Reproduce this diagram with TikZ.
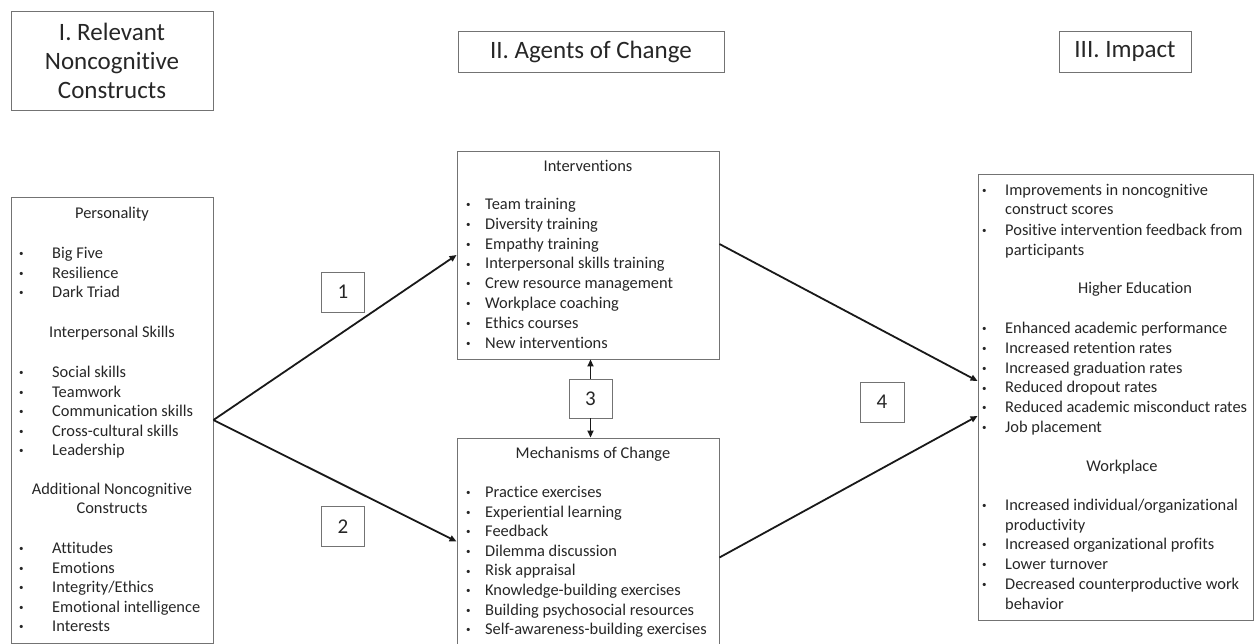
\documentclass[tikz,border=0pt]{standalone}
\usepackage{fontspec}
\setmainfont{Carlito}[Ligatures=NoCommon]
\usetikzlibrary{arrows.meta}

\newcommand\headfont{\fontsize{25}{29}\selectfont}
\newcommand\numfont{\fontsize{21}{25}\selectfont}
\newcommand\itemfont{\fontsize{16.4}{19.6}\selectfont}
\newcommand\dotmark{\raisebox{1.8pt}{\fontsize{9}{9}\selectfont\textbullet}}

\begin{document}
\begin{tikzpicture}[x=1pt,y=-1pt,
  box/.style={draw=black!55, line width=0.9pt, inner sep=0pt, text=black!85},
  numbox/.style={box, minimum width=43pt, minimum height=40pt, font=\numfont},
  txt/.style={inner sep=0pt, font=\itemfont, text=black!85},
  item/.style={txt, anchor=base west, execute at begin node={\llap{\dotmark\hspace{#1}}}},
  item/.default=14.5pt,
  cont/.style={txt, anchor=base west},
  topic/.style={txt, anchor=base},
  link/.style={-{Triangle[length=7pt,width=6pt]}, line width=1.8pt, black!90}]

  \useasboundingbox (0,0) rectangle (1255,644);

  %% column headers
  \node[box, minimum width=202pt, minimum height=99pt, align=center, font=\headfont]
    (hdrI) at (112,60.5) {I. Relevant\\Noncognitive\\Constructs};
  \node[box, minimum width=266pt, minimum height=41pt, font=\headfont]
    (hdrII) at (591,51.5) {II. Agents of Change};
  \node[box, minimum width=132pt, minimum height=41pt, font=\headfont]
    (hdrIII) at (1125,51.5) {III. Impact};

  %% I. constructs
  \node[box, minimum width=202pt, minimum height=446pt] (constructs) at (112,420) {};
  \node[topic] (personality) at (112,218.5) {Personality};
  \foreach \t [count=\k from 0] in {Big Five,Resilience,Dark Triad}
    \node[item=28.5pt] (pers-\k) at (52,258.5+19.6*\k) {\t};
  \node[topic] (interpersonal) at (112,337.5) {Interpersonal Skills};
  \foreach \t [count=\k from 0] in {Social skills,Teamwork,Communication skills,
      Cross-cultural skills,Leadership}
    \node[item=28.5pt] (inter-\k) at (52,377.5+19.5*\k) {\t};
  \node[topic] (additional) at (112,494.5) {Additional Noncognitive};
  \node[topic] (additional-b) at (112,513.5) {Constructs};
  \foreach \t [count=\k from 0] in {Attitudes,Emotions,Integrity/Ethics,
      Emotional intelligence,Interests}
    \node[item=28.5pt] (add-\k) at (52,553.5+19.5*\k) {\t};

  %% II. agents of change
  \node[box, minimum width=262pt, minimum height=208pt] (interventions) at (588,255) {};
  \node[topic] (interventions-t) at (588,171.5) {Interventions};
  \foreach \t [count=\k from 0] in {Team training,Diversity training,Empathy training,
      Interpersonal skills training,Crew resource management,Workplace coaching,
      Ethics courses,New interventions}
    \node[item] (iv-\k) at (485,209.5+19.8*\k) {\t};

  \node[box, minimum width=262pt, minimum height=207pt] (mechanisms) at (588,541.5) {};
  \node[topic] (mechanisms-t) at (593,458.5) {Mechanisms of Change};
  \foreach \t [count=\k from 0] in {Practice exercises,Experiential learning,Feedback,
      Dilemma discussion,Risk appraisal,Knowledge-building exercises,
      Building psychosocial resources,Self-awareness-building exercises}
    \node[item] (mc-\k) at (485,497.5+19.6*\k) {\t};

  %% III. impact
  \node[box, minimum width=275pt, minimum height=446pt] (impact) at (1115.5,397) {};
  \node[item=18.5pt] (imp-0) at (1005,195.5) {Improvements in noncognitive};
  \node[cont] (imp-0b) at (1005,214.5) {construct scores};
  \node[item=18.5pt] (imp-1) at (1005,235.5) {Positive intervention feedback from};
  \node[cont] (imp-1b) at (1005,255.5) {participants};
  \node[topic] (higher-ed) at (1135,293.5) {Higher Education};
  \foreach \t [count=\k from 0] in {Enhanced academic performance,Increased retention rates,
      Increased graduation rates,Reduced dropout rates,
      Reduced academic misconduct rates,Job placement}
    \node[item=18.5pt] (he-\k) at (1005,333.5+19.8*\k) {\t};
  \node[topic] (workplace) at (1122,471.5) {Workplace};
  \node[item=18.5pt] (wp-0) at (1005,510.5) {Increased individual/organizational};
  \node[cont] (wp-0b) at (1005,530.5) {productivity};
  \node[item=18.5pt] (wp-1) at (1005,549.5) {Increased organizational profits};
  \node[item=18.5pt] (wp-2) at (1005,569.5) {Lower turnover};
  \node[item=18.5pt] (wp-3) at (1005,589.5) {Decreased counterproductive work};
  \node[cont] (wp-3b) at (1005,609.5) {behavior};

  %% path numbers
  \node[numbox] (n1) at (343,292) {1};
  \node[numbox] (n2) at (343,526.5) {2};
  \node[numbox, minimum height=39pt] (n3) at (590.5,398.5) {3};
  \node[numbox, minimum width=44pt] (n4) at (882,402) {4};

  %% links
  \draw[link] (constructs.east) -- (interventions.west);
  \draw[link] (constructs.east) -- (mechanisms.west);
  \draw[link] ([yshift=11pt]interventions.east) -- ([yshift=16pt]impact.west);
  \draw[link] ([yshift=-16pt]mechanisms.east) -- ([yshift=-19pt]impact.west);
  \draw[link] (n3.north) -- (interventions.south -| n3.north);
  \draw[link] (n3.south) -- (mechanisms.north -| n3.south);

\end{tikzpicture}
\end{document}
